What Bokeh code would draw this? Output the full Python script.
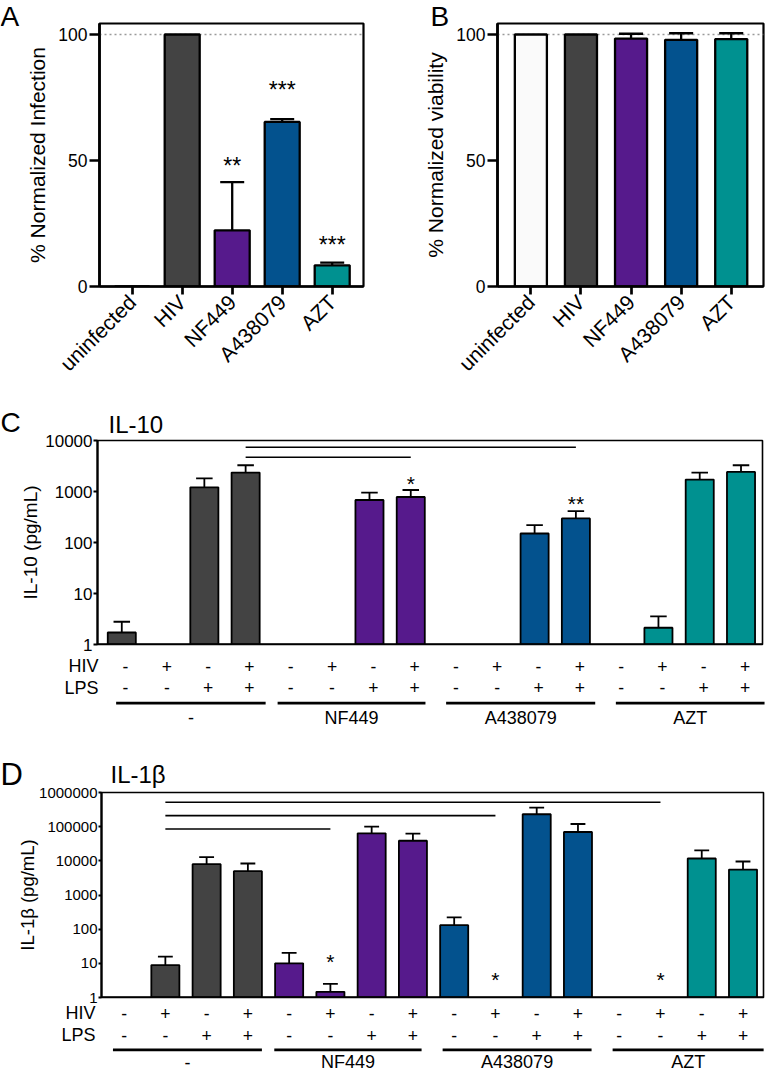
import math
import numpy as np
from bokeh.plotting import figure
from bokeh.models import (Range1d, FixedTicker, NumeralTickFormatter, Span, ColumnDataSource,
                          LinearAxis)
from bokeh.layouts import column, row
from bokeh.embed import file_html
from bokeh.resources import INLINE
from bokeh.core.properties import value

# ---------------- data ----------------
ab_categories = ["uninfected", "HIV", "NF449", "A438079", "AZT"]
ab_colors = ["#fafafa", "#434343", "#561a8c", "#03528e", "#009190"]

infection = [0, 100, 22.3, 65.3, 8.4]
infection_err = [None, None, 41.4, 66.4, 9.5]
infection_stars = ["", "", "**", "***", "***"]
infection_star_y = [None, None, 50, 79.8, 18.5]

viability = [100, 100, 98.4, 97.9, 98.2]
viability_err = [None, None, 100.3, 100.5, 100.5]

treatments = ["-", "NF449", "A438079", "AZT"]
treatment_colors = ["#434343", "#561a8c", "#03528e", "#009190"]
bar_treatment = [0, 0, 0, 0, 1, 1, 1, 1, 2, 2, 2, 2, 3, 3, 3, 3]
hiv = ["-", "+", "-", "+", "-", "+", "-", "+", "-", "+", "-", "+", "-", "+", "-", "+"]
lps = ["-", "-", "+", "+", "-", "-", "+", "+", "-", "-", "+", "+", "-", "-", "+", "+"]

il10 = [1.72, None, 1208, 2346, None, None, 681, 780, None, None, 150, 297, None, 2.13, 1710, 2420]
il10_err = [2.79, None, 1815, 3273, None, None, 948, 1071, None, None, 219, 413, None, 3.56, 2346, 3273]
il10_star_x = [7, 11]
il10_star_y = [1760, 734]
il10_star_text = ["*", "**"]
il10_sig_x0 = [3, 3]
il10_sig_x1 = [7, 11]
il10_sig_y = [4700, 7390]
il10_group_x0 = [-0.13, 3.78, 7.86, 11.97]
il10_group_x1 = [3.49, 7.36, 11.47, 15.57]

il1b = [None, 8.9, 7980, 4970, 10.0, 1.47, 63700, 38700, 131, None, 230600, 69700, None, None, 11700, 5560]
il1b_err = [None, 15.7, 12800, 8350, 20.1, 2.52, 100000, 62200, 220, None, 362000, 119700, None, None, 20100, 9550]
il1b_star_x = [5, 9, 13]
il1b_star_y = [16.1, 4.86, 4.86]
il1b_star_text = ["*", "*", "*"]
il1b_sig_x0 = [1, 1, 1]
il1b_sig_x1 = [5, 9, 13]
il1b_sig_y = [85300, 210800, 520000]
il1b_group_x0 = [-0.27, 3.64, 7.72, 11.84]
il1b_group_x1 = [3.34, 7.21, 11.33, 15.5]

# ---------------- helpers ----------------
FONT = "Liberation Sans"
W = 766


def F(v):
    return f"{v:.1f}px"


def arr(vals):
    return np.array([np.nan if v is None else v for v in vals], dtype=float)


def no_align(p):
    try:
        p.frame_align = False
    except Exception:
        pass


def make_fig(x_a, x_b, y_a, y_b, frame, xr, yr, ylog=False):
    # frame given in local pixels (left, right, top, bottom)
    fl, fr, ft, fb = frame
    w, h = x_b - x_a, y_b - y_a
    p = figure(width=int(round(w)), height=int(round(h)),
               x_range=Range1d(*xr), y_range=Range1d(*yr),
               y_axis_type="log" if ylog else "linear",
               x_axis_location=None, y_axis_location="left",
               toolbar_location=None, output_backend="svg",
               min_border_left=int(round(fl)), min_border_right=int(round(w - fr)),
               min_border_top=int(round(ft)), min_border_bottom=int(round(h - fb)))
    no_align(p)
    p.grid.visible = False
    p.background_fill_color = "white"
    p.border_fill_color = None
    return p


def plain_fig(y_a, y_b, xr):
    p = figure(width=W, height=int(round(y_b - y_a)), x_range=Range1d(*xr),
               y_range=Range1d(y_b, y_a), x_axis_location=None, y_axis_location=None,
               toolbar_location=None, output_backend="svg", min_border=0,
               min_border_left=0, min_border_right=0, min_border_top=0, min_border_bottom=0)
    no_align(p)
    p.grid.visible = False
    p.outline_line_color = None
    p.background_fill_color = None
    p.border_fill_color = None
    return p


def style_axis(ax, tick_fs, label_fs, line_w, tick_out, standoff, label_standoff):
    ax.axis_line_width = line_w
    ax.axis_line_color = "black"
    ax.major_tick_line_width = line_w
    ax.major_tick_line_color = "black"
    ax.major_tick_out = tick_out
    ax.major_tick_in = 0
    ax.minor_tick_line_color = None
    ax.major_label_text_font = FONT
    ax.major_label_text_font_size = tick_fs
    ax.major_label_text_color = "black"
    ax.major_label_standoff = standoff
    ax.axis_label_text_font = FONT
    ax.axis_label_text_font_size = label_fs
    ax.axis_label_text_font_style = "normal"
    ax.axis_label_text_color = "black"
    ax.axis_label_standoff = label_standoff


def header(y_a, y_b, texts, xs, centers, sizes):
    p = plain_fig(y_a, y_b, (0, W))
    for t, x, c, s in zip(texts, xs, centers, sizes):
        p.text(x=[x], y=[c], text=[t], text_font=value(FONT), text_font_size=F(s),
               text_align="left", text_baseline="middle", text_color="black")
    return p


def overlap_next(p, px):
    p.margin = (0, 0, -px, 0)


# ---------------- panels A / B ----------------
def bar_panel(x_a, x_b, y_a, y_b, frame, y100, c0, step, bar_w, vals, errs, ylabel,
              stars=None, star_y=None):
    fl, fr, ft, fb = frame
    xr = ((fl - c0) / step, (fr - c0) / step)
    yr = (0, (fb - ft) / ((fb - y100) / 100.0))
    p = make_fig(x_a, x_b, y_a, y_b, frame, xr, yr)
    xs = list(range(len(ab_categories)))
    p.add_layout(Span(location=100, dimension="width", line_color="#9a9a9a",
                      line_width=1.6, line_dash="2 3", level="underlay"))
    src = ColumnDataSource(dict(x=xs, top=arr(vals), err=arr(errs), color=ab_colors))
    cap = 0.24
    p.segment(x0="x", y0="top", x1="x", y1="err", source=src, line_color="black", line_width=2.3)
    src_cap = ColumnDataSource(dict(x0=[x - cap for x in xs], x1=[x + cap for x in xs], err=arr(errs)))
    p.segment(x0="x0", y0="err", x1="x1", y1="err", source=src_cap, line_color="black", line_width=2.3)
    p.vbar(x="x", top="top", bottom=0, width=bar_w, source=src, fill_color="color",
           line_color="black", line_width=2.3)
    if stars is not None:
        ssrc = ColumnDataSource(dict(x=[x for x, s in zip(xs, stars) if s],
                                     y=[y for y, s in zip(star_y, stars) if s],
                                     t=[s for s in stars if s]))
        p.text(x="x", y="y", text="t", source=ssrc, text_font=value(FONT),
               text_font_size=F(23), text_align="center", text_baseline="middle",
               y_offset=5, text_color="black")
    p.outline_line_color = "black"
    p.outline_line_width = 2.2
    p.outline_line_alpha = 1
    xax = LinearAxis(ticker=FixedTicker(ticks=xs, minor_ticks=[]))
    xax.major_label_overrides = {i: c for i, c in enumerate(ab_categories)}
    xax.major_label_orientation = math.pi / 4
    style_axis(xax, F(21), F(21), 2.7, 8, 4, 0)
    p.add_layout(xax, "below")
    yax = p.yaxis[0]
    yax.ticker = FixedTicker(ticks=[0, 50, 100], minor_ticks=[])
    yax.axis_label = ylabel
    style_axis(yax, F(17.5), F(21), 2.7, 10, 2, 6)
    return p


hdrAB = header(0, 32, ["A", "B"], [0, 430], [15.7, 15.7], [28, 28])
overlap_next(hdrAB, 10)
pA = bar_panel(0, 383, 22, 405, (99, 363, 1, 264), 12, 131.7, 50.0, 0.70,
               infection, infection_err, "% Normalized Infection",
               infection_stars, infection_star_y)
pB = bar_panel(383, 766, 22, 405, (114.5, 380, 1, 264), 12, 147.8, 50.0, 0.64,
               viability, viability_err, "% Normalized viability")


# ---------------- panels C / D ----------------
def log_panel(y_a, y_b, frame, c0, step, yr, ticks, vals, errs,
              star_x, star_y, star_text, sig_x0, sig_x1, sig_y, ylabel, tick_fs, label_fs,
              tick_out, label_standoff, cap):
    fl, fr, ft, fb = frame
    xr = ((fl - c0) / step, (fr - c0) / step)
    p = make_fig(0, W, y_a, y_b, frame, xr, yr, ylog=True)
    xs = list(range(16))
    colors = [treatment_colors[t] for t in bar_treatment]
    src = ColumnDataSource(dict(x=xs, top=arr(vals), err=arr(errs), color=colors))
    p.segment(x0="x", y0="top", x1="x", y1="err", source=src, line_color="black", line_width=1.8)
    src_cap = ColumnDataSource(dict(x0=[x - cap for x in xs], x1=[x + cap for x in xs], err=arr(errs)))
    p.segment(x0="x0", y0="err", x1="x1", y1="err", source=src_cap, line_color="black", line_width=1.8)
    p.vbar(x="x", top="top", bottom=yr[0], width=0.68, source=src, fill_color="color",
           line_color="black", line_width=1.8)
    p.segment(x0=sig_x0, y0=sig_y, x1=sig_x1, y1=sig_y, line_color="black", line_width=1.6)
    p.text(x=star_x, y=star_y, text=star_text, text_font=value(FONT), text_font_size=F(21),
           text_align="center", text_baseline="middle", y_offset=5, text_color="black")
    p.outline_line_color = "black"
    p.outline_line_width = 1.6
    p.outline_line_alpha = 1
    p.add_layout(Span(location=yr[0], dimension="width", line_color="black", line_width=2.4))
    yax = p.yaxis[0]
    yax.ticker = FixedTicker(ticks=ticks, minor_ticks=[])
    yax.formatter = NumeralTickFormatter(format="0")
    yax.axis_label = ylabel
    style_axis(yax, tick_fs, label_fs, 2.2, tick_out, 1, label_standoff)
    return p


def rows_fig(y_a, y_b, c0, step, label_x, sign_dx, row_y, group_x0, group_x1):
    p = plain_fig(y_a, y_b, ((0 - c0) / step, (W - c0) / step))
    xs = list(range(16))
    y_hiv, y_lps, y_line, y_lab = row_y
    p.text(x=xs, y=[y_hiv] * 16, text=hiv, text_font=value(FONT), text_font_size=F(17.5),
           text_align="center", text_baseline="middle", x_offset=sign_dx, text_color="black")
    p.text(x=xs, y=[y_lps] * 16, text=lps, text_font=value(FONT), text_font_size=F(17.5),
           text_align="center", text_baseline="middle", x_offset=sign_dx, text_color="black")
    p.text(x=[label_x, label_x], y=[y_hiv, y_lps], text=["HIV", "LPS"], text_font=value(FONT),
           text_font_size=F(18), text_align="right", text_baseline="middle", text_color="black")
    p.segment(x0=group_x0, y0=[y_line] * 4, x1=group_x1, y1=[y_line] * 4,
              line_color="black", line_width=2.8)
    mids = [(a + b) / 2 for a, b in zip(group_x0, group_x1)]
    p.text(x=mids, y=[y_lab] * 4, text=treatments, text_font=value(FONT), text_font_size=F(18),
           text_align="center", text_baseline="middle", text_color="black")
    return p


hdrC = header(405, 438, ["C", "IL-10"], [0, 108], [422, 423.5], [28, 24])
overlap_next(hdrC, 8)
pC = log_panel(430, 654, (96.7, 762, 10, 214.3), 121, 41.3,
               (1, 10000), [1, 10, 100, 1000, 10000], il10, il10_err,
               il10_star_x, il10_star_y, il10_star_text, il10_sig_x0, il10_sig_x1, il10_sig_y,
               "IL-10 (pg/mL)", F(17), F(19), 4, 1, 0.2)
pCr = rows_fig(654, 730, 121, 41.3, -0.557, 4, (665.7, 687.3, 702.7, 717),
               il10_group_x0, il10_group_x1)

hdrD = header(730, 792, ["D", "IL-1β"], [0, 110], [773.5, 773.5], [31, 24])
overlap_next(hdrD, 9)
pD = log_panel(783, 1006, (101, 763, 9.3, 214), 123.6, 41.26,
               (1, 1000000), [1, 10, 100, 1000, 10000, 100000, 1000000], il1b, il1b_err,
               il1b_star_x, il1b_star_y, il1b_star_text, il1b_sig_x0, il1b_sig_x1, il1b_sig_y,
               "IL-1β (pg/mL)", F(15), F(18.5), 3, -2, 0.18)
overlap_next(pD, 6)
pDr = rows_fig(1000, 1072, 123.6, 41.26, -0.693, 0, (1012.7, 1034.7, 1049.3, 1061.5),
               il1b_group_x0, il1b_group_x1)

layout = column(hdrAB, row(pA, pB), hdrC, pC, pCr, hdrD, pD, pDr)
open("out.html", "w").write(file_html(layout, INLINE))
